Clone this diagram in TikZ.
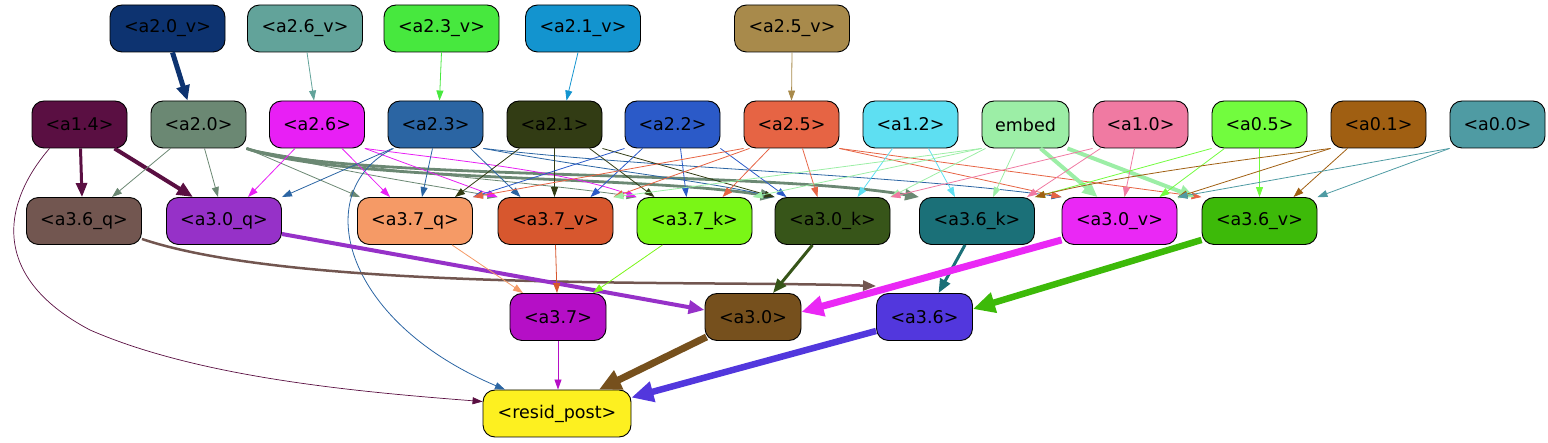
\documentclass[tikz,border=0pt]{standalone}
\usepackage{fontspec}
\setmainfont{DejaVu Sans}
\usetikzlibrary{arrows.meta}
\definecolor{c20v}{HTML}{0D3370}
\definecolor{c26v}{HTML}{62A39A}
\definecolor{c23v}{HTML}{47E83E}
\definecolor{c21v}{HTML}{1394CF}
\definecolor{c25v}{HTML}{A88A4B}
\definecolor{c14}{HTML}{5A0F42}
\definecolor{c20}{HTML}{6B8873}
\definecolor{c26}{HTML}{E81FF5}
\definecolor{c23}{HTML}{2B65A3}
\definecolor{c21}{HTML}{323C14}
\definecolor{c22}{HTML}{2B5AC8}
\definecolor{c25}{HTML}{E66444}
\definecolor{c12}{HTML}{5EDFF2}
\definecolor{cem}{HTML}{9CEEA6}
\definecolor{c10}{HTML}{F07AA2}
\definecolor{c05}{HTML}{72FC3E}
\definecolor{c01}{HTML}{A05F12}
\definecolor{c00}{HTML}{4F9BA3}
\definecolor{c36q}{HTML}{725650}
\definecolor{c30q}{HTML}{9631C8}
\definecolor{c37q}{HTML}{F59A66}
\definecolor{c37v}{HTML}{D7572E}
\definecolor{c37k}{HTML}{7AF616}
\definecolor{c30k}{HTML}{375519}
\definecolor{c36k}{HTML}{1B7078}
\definecolor{c30v}{HTML}{EA28F5}
\definecolor{c36v}{HTML}{3DBA09}
\definecolor{c37}{HTML}{B50FC6}
\definecolor{c30}{HTML}{76501D}
\definecolor{c36}{HTML}{5237DD}
\definecolor{crp}{HTML}{FDF020}
\begin{document}
\begin{tikzpicture}[x=1pt,y=-1pt,
  nd/.style={draw=black, line width=0.9pt, rounded corners=12pt, minimum height=47pt, inner sep=0pt, font=\fontsize{17.5}{20}\selectfont, text=black},
  wa/.style={minimum width=95pt},
  wb/.style={minimum width=115pt},
  ed/.style={line width=0.8pt, -{Triangle[length=10pt,width=7pt]}},
  edk/.style={line width=7pt, -{Triangle[length=22pt,width=20pt]}},
]
\useasboundingbox (0,0) rectangle (1548,443);
% row 0
\node[nd,wb,fill=c20v] (a20v) at (167.5,28.5) {<a2.0\_v>};
\node[nd,wb,fill=c26v] (a26v) at (305,28.5) {<a2.6\_v>};
\node[nd,wb,fill=c23v] (a23v) at (441.5,28.5) {<a2.3\_v>};
\node[nd,wb,fill=c21v] (a21v) at (583,28.5) {<a2.1\_v>};
\node[nd,wb,fill=c25v] (a25v) at (792,28.5) {<a2.5\_v>};
% row 1
\node[nd,wa,fill=c14] (a14) at (79.5,124.5) {<a1.4>};
\node[nd,wa,fill=c20] (a20) at (198.5,124.5) {<a2.0>};
\node[nd,wa,fill=c26] (a26) at (317,124.5) {<a2.6>};
\node[nd,wa,fill=c23] (a23) at (435.5,124.5) {<a2.3>};
\node[nd,wa,fill=c21] (a21) at (554.5,124.5) {<a2.1>};
\node[nd,wa,fill=c22] (a22) at (672.5,124.5) {<a2.2>};
\node[nd,wa,fill=c25] (a25) at (791.5,124.5) {<a2.5>};
\node[nd,wa,fill=c12] (a12) at (910.5,124.5) {<a1.2>};
\node[nd,minimum width=87pt,fill=cem] (emb) at (1025.5,124.5) {embed};
\node[nd,wa,fill=c10] (a10) at (1140.5,124.5) {<a1.0>};
\node[nd,wa,fill=c05] (a05) at (1259.5,124.5) {<a0.5>};
\node[nd,wa,fill=c01] (a01) at (1378.5,124.5) {<a0.1>};
\node[nd,wa,fill=c00] (a00) at (1497.5,124.5) {<a0.0>};
% row 2
\node[nd,wb,fill=c36q] (a36q) at (84,221) {<a3.6\_q>};
\node[nd,wb,fill=c30q] (a30q) at (224,221) {<a3.0\_q>};
\node[nd,wb,fill=c37q] (a37q) at (415,221) {<a3.7\_q>};
\node[nd,wb,fill=c37v] (a37v) at (555.5,221) {<a3.7\_v>};
\node[nd,wb,fill=c37k] (a37k) at (694.5,221) {<a3.7\_k>};
\node[nd,wb,fill=c30k] (a30k) at (832.5,221) {<a3.0\_k>};
\node[nd,wb,fill=c36k] (a36k) at (977,221) {<a3.6\_k>};
\node[nd,wb,fill=c30v] (a30v) at (1119.5,221) {<a3.0\_v>};
\node[nd,wb,fill=c36v] (a36v) at (1259.5,221) {<a3.6\_v>};
% row 3
\node[nd,minimum width=96pt,fill=c37] (a37) at (558,317) {<a3.7>};
\node[nd,minimum width=96pt,fill=c30] (a30) at (753,317) {<a3.0>};
\node[nd,minimum width=96pt,fill=c36] (a36) at (924.5,317) {<a3.6>};
\node[nd,minimum width=148pt,fill=crp] (rp) at (557,413.5) {<resid\_post>};

% top edges
\draw[line width=5pt,-{Triangle[length=15pt,width=13pt]},c20v] ([xshift=5pt]a20v.south) -- ([xshift=-11pt]a20.north);
\draw[ed,c26v] ([xshift=2pt]a26v.south) -- ([xshift=-3pt]a26.north);
\draw[ed,c23v] (a23v.south) -- ([xshift=4pt]a23.north);
\draw[ed,c21v] ([xshift=-5pt]a21v.south) -- ([xshift=12pt]a21.north);
\draw[ed,c25v] (a25v.south) -- (a25.north);

% a1.4
\draw[line width=3pt,-{Triangle[length=14pt,width=11pt]},c14] ([xshift=1pt]a14.south) -- ([xshift=-2pt]a36q.north);
\draw[line width=4pt,-{Triangle[length=16pt,width=13pt]},c14] ([xshift=35pt]a14.south) -- ([xshift=-31pt]a30q.north);
\draw[ed,line width=0.7pt,c14] ([xshift=-30pt]a14.south) .. controls (5,200) and (-14,275) .. (90,330) .. controls (200,378) and (360,392) .. ([yshift=-12pt]rp.north west);

% a2.0
\draw[ed,c20] ([xshift=-28pt]a20.south) -- ([xshift=28pt]a36q.north);
\draw[ed,c20] ([xshift=6pt]a20.south) -- ([xshift=-6pt]a30q.north);
\draw[ed,c20] (a20.south east) -- ([xshift=-55pt]a37q.north);
\draw[ed,c20] (a20.south east) .. controls (330,170) and (430,185) .. (a37v.north west);
\draw[ed,c20] (a20.south east) .. controls (350,170) and (520,180) .. (a37k.north west);
\draw[line width=2.8pt,-{Triangle[length=14pt,width=11pt]},c20] (a20.south east) .. controls (340,182) and (640,175) .. (a30k.north west);
\draw[line width=2.8pt,-{Triangle[length=14pt,width=11pt]},c20] (a20.south east) .. controls (340,180) and (760,170) .. (a36k.north west);

% a2.6
\draw[ed,c26] ([xshift=-22pt]a26.south) -- ([xshift=24pt]a30q.north);
\draw[ed,c26] ([xshift=25pt]a26.south) -- ([xshift=-25pt]a37q.north);
\draw[ed,c26] (a26.south east) -- (a37v.north west);
\draw[ed,c26] (a26.south east) .. controls (450,160) and (560,170) .. (a37k.north west);

% a2.3
\draw[ed,c23] ([xshift=-43pt]a23.south) -- (a30q.north east);
\draw[ed,c23] ([xshift=-3pt]a23.south) -- ([xshift=7pt]a37q.north);
\draw[ed,c23] ([xshift=35pt]a23.south) -- ([xshift=-35pt]a37v.north);
\draw[ed,c23] (a23.south east) .. controls (600,170) and (700,180) .. (a30k.north west);
\draw[ed,c23] (a23.south east) .. controls (650,168) and (900,175) .. (a30v.north west);
\draw[ed,c23] ([xshift=-42pt]a23.south) .. controls (310,190) and (340,320) .. ([xshift=-52pt]rp.north);

% a2.1
\draw[ed,c21] ([xshift=-35pt]a21.south) -- ([xshift=40pt]a37q.north);
\draw[ed,c21] (a21.south) -- ([xshift=-1pt]a37v.north);
\draw[ed,c21] ([xshift=35pt]a21.south) -- ([xshift=-40pt]a37k.north);
\draw[ed,c21] (a21.south east) -- (a30k.north west);

% a2.2
\draw[ed,c22] (a22.south west) -- (a37q.north east);
\draw[ed,c22] ([xshift=-30pt]a22.south) -- ([xshift=35pt]a37v.north);
\draw[ed,c22] ([xshift=8pt]a22.south) -- ([xshift=-8pt]a37k.north);
\draw[ed,c22] (a22.south east) -- ([xshift=-46pt]a30k.north);

% a2.5
\draw[ed,c25] (a25.south west) -- (a37q.north east);
\draw[ed,c25] ([xshift=-42pt]a25.south) -- (a37v.north east);
\draw[ed,c25] ([xshift=-22pt]a25.south) -- ([xshift=28pt]a37k.north);
\draw[ed,c25] ([xshift=11pt]a25.south) -- ([xshift=-15pt]a30k.north);
\draw[ed,c25] (a25.south east) -- (a30v.north west);
\draw[ed,c25] (a25.south east) -- (a36v.north west);

% a1.2
\draw[ed,c12] ([xshift=-18pt]a12.south) -- ([xshift=25pt]a30k.north);
\draw[ed,c12] ([xshift=18pt]a12.south) -- ([xshift=-22pt]a36k.north);

% embed
\draw[ed,cem] (emb.south west) -- (a37v.north east);
\draw[ed,cem] (emb.south west) -- (a37k.north east);
\draw[ed,cem] ([xshift=-40pt]emb.south) -- (a30k.north east);
\draw[ed,cem] ([xshift=-10pt]emb.south) -- ([xshift=16pt]a36k.north);
\draw[line width=4pt,-{Triangle[length=15pt,width=13pt]},cem] ([xshift=15pt]emb.south) -- ([xshift=-22pt]a30v.north);
\draw[line width=4pt,-{Triangle[length=15pt,width=13pt]},cem] ([xshift=42pt]emb.south) -- ([xshift=-7pt]a36v.north west);

% a1.0
\draw[ed,c10] (a10.south west) -- (a30k.north east);
\draw[ed,c10] ([xshift=-40pt]a10.south) -- ([xshift=50pt]a36k.north);
\draw[ed,c10] ([xshift=-6pt]a10.south) -- ([xshift=5pt]a30v.north);

% a0.5
\draw[ed,c05] (a05.south west) -- (a36k.north east);
\draw[ed,c05] ([xshift=-35pt]a05.south) -- ([xshift=40pt]a30v.north);
\draw[ed,c05] (a05.south) -- (a36v.north);

% a0.1
\draw[ed,c01] (a01.south west) .. controls (1200,165) and (1100,180) .. (a36k.north east);
\draw[ed,c01] (a01.south west) -- (a30v.north east);
\draw[ed,c01] ([xshift=-31pt]a01.south) -- ([xshift=34pt]a36v.north);

% a0.0
\draw[ed,c00] (a00.south west) -- (a30v.north east);
\draw[ed,c00] (a00.south west) -- (a36v.north east);

% row 2 -> row 3
\draw[line width=2.5pt,-{Triangle[length=13pt,width=10pt]},c36q] ([yshift=-18pt]a36q.east) .. controls (300,292) and (700,280) .. ([yshift=7pt]a36.north west);
\draw[line width=4pt,-{Triangle[length=16pt,width=13pt]},c30q] ([yshift=-13pt]a30q.east) -- ([yshift=7pt]a30.west);
\draw[ed,c37q] ([xshift=37pt]a37q.south) -- ([xshift=-35pt]a37.north);
\draw[ed,c37v] (a37v.south) -- ([xshift=-1pt]a37.north);
\draw[ed,c37k] ([xshift=-32pt]a37k.south) -- ([xshift=35pt]a37.north);
\draw[line width=3pt,-{Triangle[length=14pt,width=11pt]},c30k] ([xshift=-20pt]a30k.south) -- ([xshift=20pt]a30.north);
\draw[line width=3pt,-{Triangle[length=14pt,width=11pt]},c36k] ([xshift=-12pt]a36k.south) -- ([xshift=14pt]a36.north);
\draw[edk,c30v] ([yshift=5pt]a30v.south west) -- ([yshift=5pt]a30.east);
\draw[edk,line width=6.5pt,c36v] ([yshift=5pt]a36v.south west) -- ([yshift=8pt]a36.east);

% row 3 -> resid
\draw[ed,c37] (a37.south) -- ([xshift=1pt]rp.north);
\draw[edk,c30] ([xshift=2pt,yshift=4pt]a30.south west) -- ([xshift=42pt]rp.north);
\draw[edk,line width=6.5pt,c36] ([yshift=-14pt]a36.west) -- ([yshift=-8pt]rp.north east);
\end{tikzpicture}
\end{document}
